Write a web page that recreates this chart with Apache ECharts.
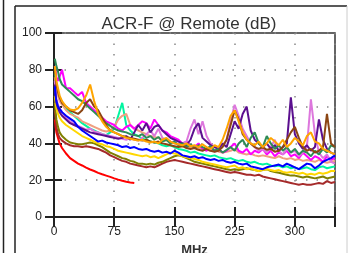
<!DOCTYPE html>
<html>
<head>
<meta charset="utf-8">
<script src="https://cdn.jsdelivr.net/npm/echarts@6/dist/echarts.min.js"></script>
<style>
  html, body { margin: 0; padding: 0; background: #fff; }
  #chart { width: 349px; height: 253px; }
</style>
</head>
<body>
<div id="chart"></div>
<script>
  // frequency points (MHz)
  var freq = [1, 2, 3, 5, 7, 10, 15, 20, 25, 30,
    35, 40, 45, 50, 55, 60, 65, 70, 75, 80,
    85, 90, 95, 100, 105, 110, 115, 120, 125, 130,
    135, 140, 145, 150, 155, 160, 165, 170, 175, 180,
    185, 190, 195, 200, 205, 210, 215, 220, 225, 230,
    235, 240, 245, 250, 255, 260, 265, 270, 275, 280,
    285, 290, 295, 300, 305, 310, 315, 320, 325, 330,
    335, 340, 345, 350];
  var xTicks = [0, 75, 150, 225, 300];
  var yTicks = [0, 20, 40, 60, 80, 100];

  // ACR-F values (dB), one array per pair
  var redLine = [53, 49, 46, 43, 40, 37.5, 34.5, 32, 30.5, 29,
    28, 26.8, 25.8, 25, 24, 23.2, 22.5, 21.8, 21, 20.3,
    19.7, 19.2, 18.8, 18.5];
  var brownLine = [58, 53, 49, 45, 43, 41.5, 40, 39, 38.5, 38.5,
    38, 38.5, 38, 37.5, 37, 36, 35, 33.5, 32.5, 31.5,
    30.5, 30, 29, 28.5, 28, 27.5, 27, 27.5, 27, 28,
    29, 30, 30.5, 31, 30.5, 30, 29.5, 29, 28.5, 28,
    27.5, 27, 26.5, 26, 25.5, 25, 24.5, 24, 24.5, 24,
    23.5, 23, 23, 22.5, 23, 22, 21.5, 21, 20.5, 20,
    19.5, 19, 18.5, 18, 17.5, 18, 17.5, 17.5, 18, 18.5,
    18, 19.5, 18.5, 19];
  var oliveLine = [62, 57, 53, 49, 46, 44, 42, 40.5, 40, 39.5,
    39.5, 40, 40.5, 40, 39, 38, 36.5, 35, 34, 33,
    32, 31.5, 30.5, 30, 29, 29, 28.5, 29, 28.5, 29.5,
    30, 31, 32, 33, 33.5, 33, 32, 31, 30, 29.5,
    29, 28.5, 28, 27.5, 27, 26.5, 26, 25.5, 26, 25.5,
    26, 26.5, 26, 25.5, 25, 25.5, 26, 25, 24.5, 24,
    23.5, 23, 22.5, 22.5, 22, 21.5, 22, 21.5, 21, 21.5,
    22, 21, 21.5, 22];
  var yellowLine = [66, 62, 59, 56, 54, 52, 50, 48.5, 47, 45.5,
    44, 43, 42, 41, 40, 39.5, 38.5, 38, 37, 36,
    35.5, 35, 34.5, 34, 33.5, 33, 33.5, 32.5, 33, 32,
    33, 34, 35, 34.5, 34, 33, 32.5, 32, 31.5, 31,
    30, 29.5, 29, 28.5, 28, 27.5, 27, 27.5, 28, 26.5,
    27, 26, 26.5, 25.5, 25, 25.5, 26, 25.5, 25, 25.5,
    24.5, 24, 24.5, 24, 23.5, 24, 23, 23.5, 23, 24,
    23.5, 24, 25, 25];
  var aquaLine = [78, 74, 71, 68, 65, 62, 59, 57, 55, 53,
    51, 49.5, 48, 47, 46, 45, 44.5, 46, 48, 55,
    62, 50, 47, 45, 44, 42.5, 42, 41, 40.5, 40,
    39, 38.5, 39, 38, 37, 36.5, 36, 35, 35.5, 34.5,
    34, 33.5, 33, 33.5, 32.5, 32, 31.5, 32, 31, 30.5,
    31, 30, 29.5, 30, 29, 28.5, 29, 28, 27.5, 28,
    27, 27.5, 26.5, 27, 26, 26.5, 27, 26, 25.5, 27,
    27.5, 26.5, 27, 27.5];
  var salmonLine = [76, 72, 69, 66, 63, 61, 58, 56, 55, 54,
    52, 51, 50, 49, 48, 47, 46.5, 47, 49, 53,
    55, 56, 50, 48, 47, 46, 45, 44, 43.5, 43,
    42, 41.5, 41, 40, 39.5, 39, 38.5, 38, 38.5, 37.5,
    37, 36.5, 36, 36.5, 35.5, 35, 35.5, 36, 37, 35,
    34.5, 34, 34.5, 33.5, 33, 33.5, 33, 32.5, 32, 33,
    32, 31.5, 32, 31, 31.5, 30.5, 31, 30.5, 30, 31,
    30, 29.5, 30, 30.5];
  var magentaLine = [82, 80, 76, 74, 73, 80, 70, 70, 68, 66,
    68, 62, 60, 58, 56, 54, 52, 51, 50, 48,
    47, 49, 50, 48, 50, 52, 51, 48, 53, 50,
    47, 46, 44, 43, 42, 40, 41, 39, 38, 40,
    37, 36, 38, 35.5, 37, 35, 36, 38, 40, 36,
    35, 37, 34, 36, 35, 37, 34, 36, 33, 35,
    34, 36, 33, 34, 32, 35, 33, 31, 33, 32,
    30, 33, 31, 32];
  var orchidLine = [74, 68, 64, 61, 59, 57, 54, 52, 50.5, 49.5,
    48.5, 47.5, 48, 46.5, 46, 45, 44.5, 44, 43.5, 43,
    42.5, 42, 43, 42, 41.5, 43, 45, 47, 44, 48,
    43, 42, 41, 40, 39.5, 40, 41, 48, 53, 45,
    52, 44, 40, 38, 37, 39, 42, 52, 61, 55,
    48, 44, 40, 38, 36, 37, 35, 38, 42, 36,
    34, 37, 35, 36, 33, 35, 38, 64, 45, 35,
    32, 34, 30, 29];
  var purpleLine = [72, 66, 62, 59, 57, 55, 53, 51, 50, 49,
    48, 47, 46, 45.5, 45, 44.5, 44, 43.5, 43, 42.5,
    43, 44, 42, 46, 50, 47, 51, 46, 49, 50,
    47, 45, 43, 42, 41, 40, 39, 42, 48, 51,
    43, 41, 39, 38, 37, 40, 38, 45, 52, 48,
    56, 60, 47, 42, 40, 38, 40, 37, 39, 36,
    38, 40, 65, 45, 40, 37, 39, 36, 38, 53,
    42, 37, 35, 34];
  var seagreenLine = [86, 84, 82, 79, 75, 72, 70, 68, 66, 64,
    63, 61, 59, 57, 55, 53, 51, 49.5, 48, 47,
    46.5, 46, 45, 44.5, 44, 45, 43, 44, 42, 43.5,
    41, 42, 40, 41, 39, 40, 38, 39.5, 37.5, 39,
    38, 37, 38.5, 36, 37, 35, 36.5, 38, 36, 40,
    42, 38, 43, 46, 40, 38, 44, 40, 37, 39,
    36, 38, 35, 37, 34, 36, 35, 33, 36, 34,
    37, 35, 39, 38];
  var saddleLine = [80, 76, 72, 68, 65, 62, 60, 58, 57, 56,
    58, 62, 64, 60, 58, 54, 50, 47, 46, 45,
    44, 43.5, 43, 42.5, 42, 41.5, 42, 41, 40.5, 41,
    40, 39.5, 39, 38.5, 38, 38.5, 37.5, 37, 37.5, 36.5,
    36, 37, 36, 35.5, 36, 38, 42, 50, 58, 53,
    45, 42, 40, 38, 37, 38, 36.5, 37, 35.5, 36,
    38, 42, 46, 49, 43, 38, 36, 37, 35, 36,
    38, 56, 40, 38];
  var orangeLine = [82, 78, 74, 70, 66, 63, 60, 58.5, 58, 59,
    62, 66, 72, 63, 56, 52, 49, 47, 46, 45,
    44, 43, 42.5, 42, 41.5, 42, 41, 40.5, 41, 40,
    42, 43, 41, 40, 39.5, 39, 40, 38.5, 39, 38,
    39.5, 38, 37, 39, 38, 42, 48, 55, 58, 52,
    46, 42, 40, 39, 41, 38, 40, 43, 41, 39,
    42, 38, 40, 43, 41, 39, 44, 46, 41, 40,
    37, 36, 35, 34];
  var blueLine = [71, 66, 63, 60, 59, 57, 55, 53.5, 52, 49,
    47, 45.5, 44, 42.5, 41, 41.5, 40.5, 40, 39.5, 39,
    38, 38.5, 37.5, 38, 37, 36.5, 37, 36, 35.5, 36,
    35, 35.5, 34.5, 36, 35, 33.5, 33, 32.5, 33, 32,
    32.5, 31.5, 31, 31.5, 30.5, 31, 30, 29.5, 30, 29,
    28.5, 29, 27.5, 27, 26.5, 26, 27, 27.5, 28, 28.5,
    27.5, 29, 28, 27, 26, 27.5, 29, 28.5, 26.5, 28,
    30, 31, 32, 33.5];

  var lines = [
    { data: redLine, color: '#ff0000' },
    { data: brownLine, color: '#a52a2a' },
    { data: oliveLine, color: '#808000' },
    { data: yellowLine, color: '#ffd700' },
    { data: aquaLine, color: '#00f5a0' },
    { data: salmonLine, color: '#f0a080' },
    { data: magentaLine, color: '#ff00ff' },
    { data: orchidLine, color: '#dd77dd' },
    { data: purpleLine, color: '#5b0f8f' },
    { data: seagreenLine, color: '#2e8b57' },
    { data: saddleLine, color: '#8b4513' },
    { data: orangeLine, color: '#ffa500' },
    { data: blueLine, color: '#0000ff' }
  ];

  var myChart = echarts.init(document.getElementById('chart'));

  var dotted = { color: '#888', width: 1.5, type: [1.5, 9] };
  var tickStyle = { color: '#222', width: 2 };

  var option = {
    animation: false,
    title: {
      text: 'ACR-F @ Remote (dB)',
      left: 184,
      top: 11,
      textAlign: 'center',
      textStyle: { fontFamily: 'Liberation Sans', fontSize: 17, fontWeight: 'normal', color: '#333' }
    },
    grid: {
      left: 54, top: 33, width: 281, height: 184,
      outerBoundsMode: 'none',
      show: true, borderColor: '#333', borderWidth: 1.5
    },
    xAxis: [
      {   // main axis with labels, short ticks below
        type: 'value', min: 0, max: 350, interval: 75, position: 'bottom',
        name: 'MHz', nameLocation: 'middle', nameGap: 27,
        nameTextStyle: { fontFamily: 'Liberation Sans', fontSize: 13, fontWeight: 'bold', color: '#333' },
        axisLine: { lineStyle: { color: '#222', width: 2 } },
        axisTick: { length: 4, lineStyle: tickStyle },
        axisLabel: {
          fontFamily: 'Liberation Sans', fontSize: 12, color: '#222', margin: 9,
          formatter: function (v) { return xTicks.indexOf(v) >= 0 ? v : ''; }
        },
        splitLine: { show: true, lineStyle: dotted }
      },
      {   // inner ticks at bottom
        type: 'value', min: 0, max: 350, interval: 75, position: 'bottom',
        axisLine: { show: false }, axisLabel: { show: false }, splitLine: { show: false },
        axisTick: { inside: true, length: 10, lineStyle: tickStyle }
      },
      {   // inner ticks at top
        type: 'value', min: 0, max: 350, interval: 75, position: 'top',
        axisLine: { show: false }, axisLabel: { show: false }, splitLine: { show: false },
        axisTick: { inside: true, length: 10, lineStyle: tickStyle }
      }
    ],
    yAxis: [
      {
        type: 'value', min: 0, max: 100, interval: 20, position: 'left',
        axisLine: { show: true, lineStyle: { color: '#222', width: 2 } },
        axisTick: { show: true, length: 9, lineStyle: tickStyle },
        axisLabel: {
          fontFamily: 'Liberation Sans', fontSize: 12, color: '#222', margin: 12,
          formatter: function (v) { return yTicks.indexOf(v) >= 0 ? v : ''; }
        },
        splitLine: { show: true, lineStyle: dotted }
      },
      {
        type: 'value', min: 0, max: 100, interval: 20, position: 'left',
        axisLine: { show: false }, axisLabel: { show: false }, splitLine: { show: false },
        axisTick: { show: true, inside: true, length: 8, lineStyle: tickStyle }
      },
      {
        type: 'value', min: 0, max: 100, interval: 20, position: 'right',
        axisLine: { show: false }, axisLabel: { show: false }, splitLine: { show: false },
        axisTick: { show: true, inside: true, length: 9, lineStyle: tickStyle }
      }
    ],
    // panel frame lines
    graphic: [
      { type: 'line', shape: { x1: 3.5, y1: 0, x2: 3.5, y2: 253 }, style: { stroke: '#222', lineWidth: 1.5 } },
      { type: 'line', shape: { x1: 15, y1: 6, x2: 15, y2: 253 }, style: { stroke: '#222', lineWidth: 1.5 } },
      { type: 'line', shape: { x1: 15, y1: 6, x2: 347, y2: 6 }, style: { stroke: '#222', lineWidth: 1.5 } },
      { type: 'line', shape: { x1: 347, y1: 6, x2: 347, y2: 253 }, style: { stroke: '#ccc', lineWidth: 1 } }
    ],
    series: lines.map(function (s) {
      return {
        type: 'line',
        xAxisIndex: 0,
        yAxisIndex: 0,
        showSymbol: false,
        silent: true,
        color: s.color,
        lineStyle: { width: 2 },
        data: s.data.map(function (v, i) { return [freq[i], v]; })
      };
    })
  };

  myChart.setOption(option);
</script>
</body>
</html>
